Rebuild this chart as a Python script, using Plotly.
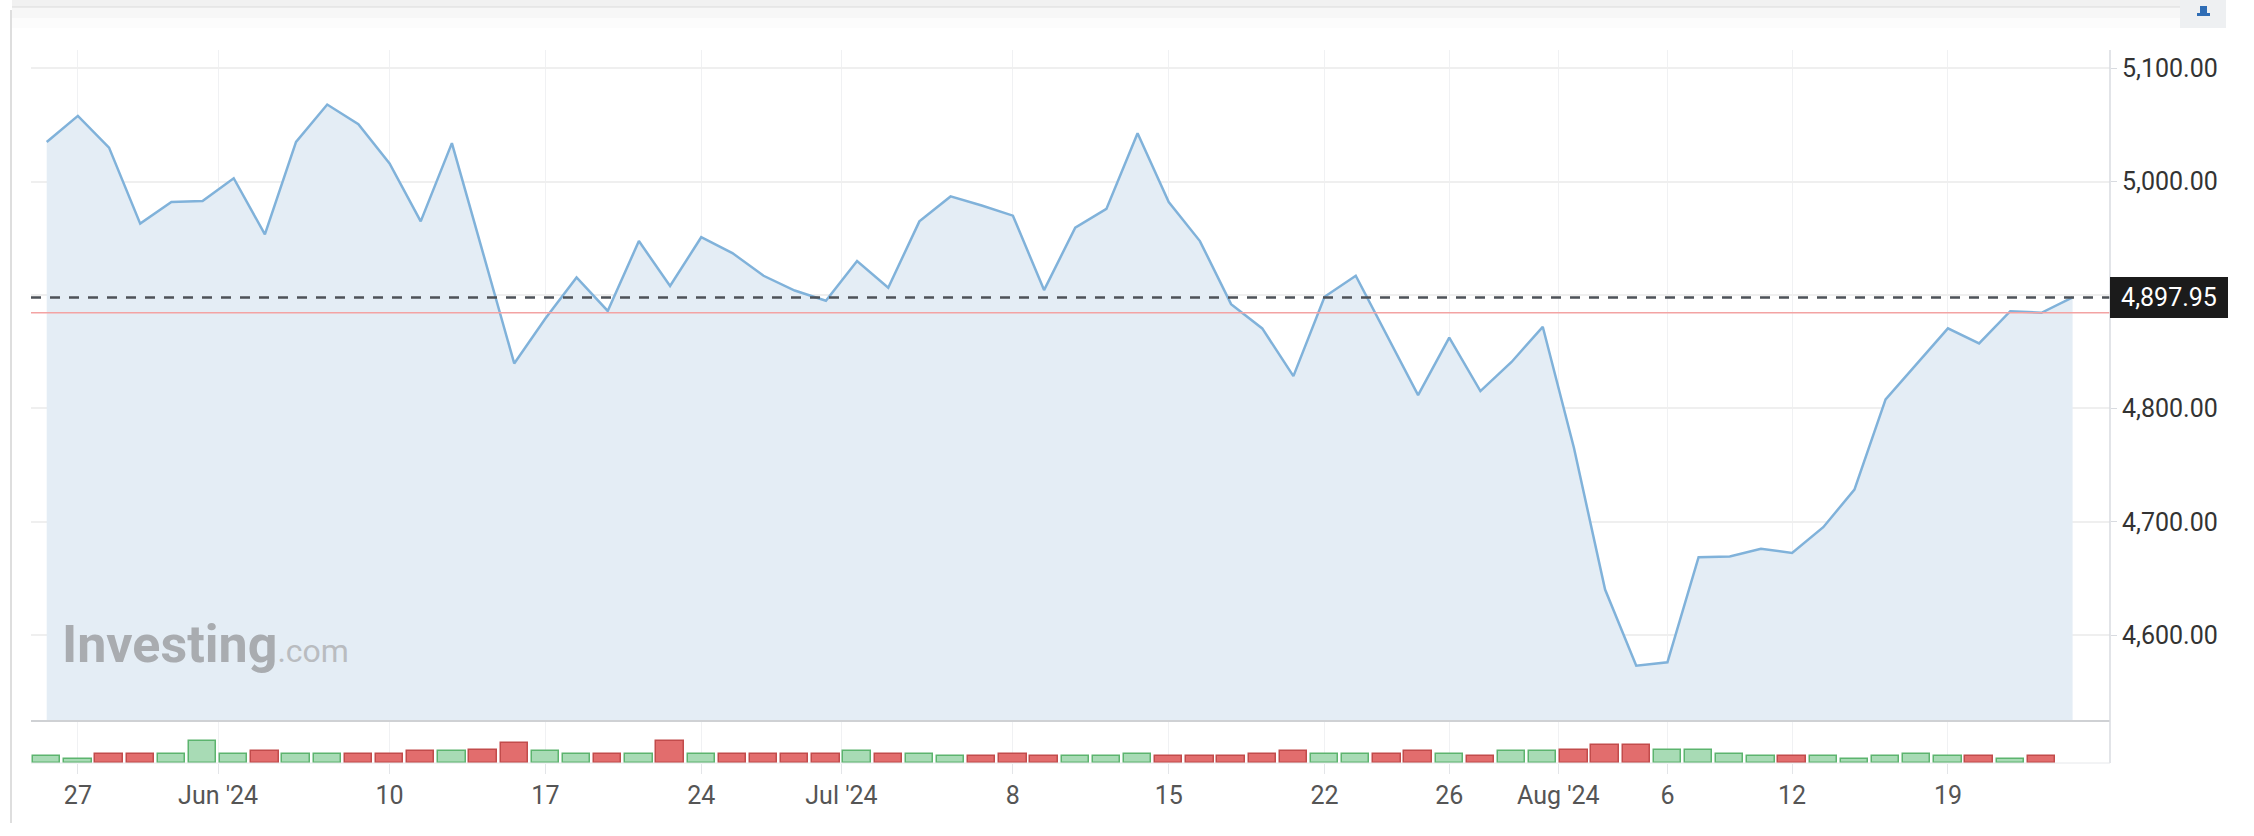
import pandas as pd
import plotly.graph_objects as go

# --- data (Euro Stoxx 50 style daily closes) ---
start_date = '2024-05-24'
end_date = '2024-08-23'

closes = [
    5035, 5058, 5030, 4963, 4982, 4983,
    5003, 4953.5, 5035, 5068, 5050.6, 5016, 4965, 5034, 4937, 4839.7,
    4879.4, 4915.6, 4886, 4947.6, 4908, 4951, 4937, 4917, 4904, 4895,
    4930, 4906.5, 4965, 4987, 4979, 4970, 4904.4, 4959.4, 4976, 5042.6,
    4982, 4947.6, 4892, 4870.6, 4828.5, 4898.5, 4917, 4864, 4811.8, 4862.4,
    4815.3, 4841, 4872,
    4765.3, 4640.3, 4573.2, 4576.2, 4668.8, 4669.5, 4676.2, 4672.6, 4695.3,
    4728.5, 4808, 4839.7, 4870.6, 4857.4, 4885.8, 4884.4, 4897.95,
]

volumes = [
    20, 13, 27, 27, 27, 65,
    27, 35, 27, 27, 27, 27, 35, 35, 40, 60,
    35, 27, 27, 27, 67, 27, 27, 27, 27, 27,
    35, 27, 27, 20, 20, 27, 20, 20, 20, 27,
    20, 20, 20, 27, 35, 27, 27, 27, 35, 27,
    20, 35, 35,
    40, 53, 53, 40, 40, 27, 20, 20, 20,
    13, 20, 27, 20, 20, 13, 20, None,
]

last_price = 4897.95
prev_close = 4884.4

tick_dates = ['2024-05-27', '2024-06-03', '2024-06-10', '2024-06-17', '2024-06-24',
              '2024-07-01', '2024-07-08', '2024-07-15', '2024-07-22', '2024-07-26',
              '2024-08-01', '2024-08-06', '2024-08-12', '2024-08-19']
tick_labels = ['27', "Jun '24", '10', '17', '24',
               "Jul '24", '8', '15', '22', '26',
               "Aug '24", '6', '12', '19']
price_ticks = [4600, 4700, 4800, 4900, 5000, 5100]

# --- page geometry ---
W, H = 2254, 836
ML, MR, MT, MB = 31, 144, 50, 73
PW, PH = W - ML - MR, H - MT - MB


def px_x(x):
    return (x - ML) / PW


def px_y(y):
    return (H - MB - y) / PH


days = pd.bdate_range(start_date, end_date)
idx = list(range(len(days)))
day_pos = {d.strftime('%Y-%m-%d'): i for i, d in enumerate(days)}

# month labels sit half a day before the first session of the month
tick_pos = [day_pos[d] - 0.5 if "'" in lab else day_pos[d] for d, lab in zip(tick_dates, tick_labels)]

up_fill, up_line = '#a8dbb5', '#5cb46e'
dn_fill, dn_line = '#e26d6d', '#c24b4b'
bar_fill, bar_line = [], []
for i, c in enumerate(closes):
    up = i == 0 or c >= closes[i - 1]
    bar_fill.append(up_fill if up else dn_fill)
    bar_line.append(up_line if up else dn_line)

fig = go.Figure()

fig.add_trace(go.Scatter(
    x=idx, y=closes, mode='lines', fill='tozeroy',
    line=dict(color='#80b2da', width=2.5), fillcolor='#e4edf5',
    xaxis='x', yaxis='y', hoverinfo='skip'))

fig.add_trace(go.Bar(
    x=idx, y=volumes, width=0.88,
    marker=dict(color=bar_fill, line=dict(color=bar_line, width=1.5)),
    xaxis='x', yaxis='y2', hoverinfo='skip'))

vol_top = px_y(721)

shapes = [
    # last price (dashed) and previous close (red)
    dict(type='line', xref='paper', yref='y', x0=0, x1=1, y0=last_price, y1=last_price,
         line=dict(color='#4d5258', width=2.5, dash='10px,9px'), layer='above'),
    dict(type='line', xref='paper', yref='y', x0=0, x1=1, y0=prev_close, y1=prev_close,
         line=dict(color='#f3a3a3', width=1.5), layer='above'),
    # pane separator, right axis line, volume base
    dict(type='line', xref='paper', yref='paper', x0=0, x1=1, y0=vol_top, y1=vol_top,
         line=dict(color='#cfd1d4', width=2)),
    dict(type='line', xref='paper', yref='paper', x0=1, x1=1, y0=0, y1=1,
         line=dict(color='#d8dbe0', width=1.5)),
    dict(type='line', xref='paper', yref='paper', x0=0, x1=1, y0=0, y1=0,
         line=dict(color='#e6e8eb', width=1)),
    # page frame: left border and top toolbar shadow
    dict(type='line', xref='paper', yref='paper', x0=px_x(11), x1=px_x(11), y0=px_y(10), y1=px_y(823),
         line=dict(color='#dedede', width=2)),
    dict(type='rect', xref='paper', yref='paper', x0=px_x(12), x1=px_x(2210), y0=px_y(0), y1=px_y(7),
         fillcolor='#f1f1f1', line=dict(width=0)),
    dict(type='line', xref='paper', yref='paper', x0=px_x(12), x1=px_x(2210), y0=px_y(7), y1=px_y(7),
         line=dict(color='#e2e2e2', width=1.5)),
    dict(type='rect', xref='paper', yref='paper', x0=px_x(12), x1=px_x(2210), y0=px_y(8), y1=px_y(18),
         fillcolor='#f7f7f7', line=dict(width=0)),
    dict(type='rect', xref='paper', yref='paper', x0=px_x(12), x1=px_x(2210), y0=px_y(18), y1=px_y(28),
         fillcolor='#fcfcfc', line=dict(width=0)),
    # small toolbar button top right
    dict(type='rect', xref='paper', yref='paper', x0=px_x(2180), x1=px_x(2226), y0=px_y(0), y1=px_y(28),
         fillcolor='#eef0f2', line=dict(width=0)),
    dict(type='rect', xref='paper', yref='paper', x0=px_x(2200), x1=px_x(2207), y0=px_y(6), y1=px_y(13),
         fillcolor='#2f6db5', line=dict(width=0)),
    dict(type='rect', xref='paper', yref='paper', x0=px_x(2197), x1=px_x(2210), y0=px_y(13), y1=px_y(16),
         fillcolor='#2f6db5', line=dict(width=0)),
]

annotations = [
    dict(xref='paper', yref='y', x=1, y=last_price, xanchor='left', yanchor='middle',
         text='4,897.95', showarrow=False, bgcolor='#1b1b1b', bordercolor='#1b1b1b',
         width=106, height=29, borderpad=5, font=dict(color='white', size=25, family='Roboto')),
    dict(xref='paper', yref='paper', x=px_x(60), y=px_y(644), xanchor='left', yanchor='middle',
         text="<b>Investing</b><span style='color:#b9bcc0;font-size:32px'>.com</span>",
         showarrow=False, font=dict(color='#a9acb0', size=52, family='Roboto')),
]

fig.update_layout(
    width=W, height=H,
    margin=dict(l=ML, r=MR, t=MT, b=MB),
    paper_bgcolor='white', plot_bgcolor='white',
    showlegend=False, bargap=0,
    font=dict(family='Roboto', color='#333333'),
    xaxis=dict(domain=[0, 1], anchor='y2', range=[-0.504, 66.2],
               tickmode='array', tickvals=tick_pos, ticktext=tick_labels,
               showgrid=True, gridcolor='#f0f1f3', gridwidth=1,
               ticks='outside', ticklen=10, tickcolor='#e3e5e8',
               tickfont=dict(size=25, color='#555555'), zeroline=False, showline=False),
    yaxis=dict(domain=[vol_top, 1], anchor='x', side='right', range=[4524.4, 5116.1],
               tickmode='array', tickvals=price_ticks, tickformat=',.2f',
               showgrid=True, gridcolor='#efefef', gridwidth=1.5,
               ticks='outside', ticklen=6, tickcolor='#d8dbe0',
               tickfont=dict(size=25, color='#333333'), zeroline=False, showline=False),
    yaxis2=dict(domain=[0, vol_top], anchor='x', range=[0, 126],
                showgrid=False, showticklabels=False, zeroline=False, showline=False),
    shapes=shapes,
    annotations=annotations,
)

# drop the default 8px page margin so the figure sits at the window's corner
fig.write_html('out.html', config={'displayModeBar': False},
               post_script="document.body.style.margin='0';")
